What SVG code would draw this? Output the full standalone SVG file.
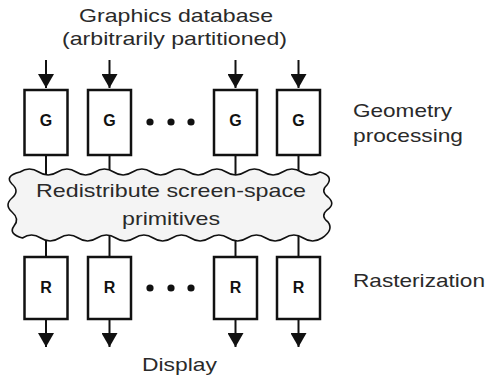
<svg xmlns="http://www.w3.org/2000/svg" width="490" height="375" viewBox="0 0 490 375">
<defs>
<marker id="ah" markerWidth="14" markerHeight="16" refX="14" refY="8" orient="auto" markerUnits="userSpaceOnUse" viewBox="0 0 14 16">
<path d="M0,0 L14,8 L0,16 Z" fill="#111"/>
</marker>
<style>
.lbl{font-family:"Liberation Sans",Arial,sans-serif;font-size:19px;fill:#2a2a2a}
.box{fill:#fff;stroke:#111;stroke-width:2.5}
.bl{font-family:"Liberation Sans",Arial,sans-serif;font-size:16px;font-weight:bold;fill:#111;text-anchor:middle}
.ln{stroke:#111;stroke-width:2;fill:none}
.dot{fill:#111}
</style>
</defs>
<rect width="490" height="375" fill="#fff"/>

<text class="lbl" x="79" y="22" textLength="194" lengthAdjust="spacingAndGlyphs">Graphics database</text>
<text class="lbl" x="62" y="45" textLength="225" lengthAdjust="spacingAndGlyphs">(arbitrarily partitioned)</text>
<text class="lbl" x="353" y="117" textLength="99" lengthAdjust="spacingAndGlyphs">Geometry</text>
<text class="lbl" x="353" y="142" textLength="110" lengthAdjust="spacingAndGlyphs">processing</text>
<text class="lbl" x="353" y="287" textLength="132" lengthAdjust="spacingAndGlyphs">Rasterization</text>
<text class="lbl" x="142" y="371" textLength="75" lengthAdjust="spacingAndGlyphs">Display</text>

<g id="connectors">
<line class="ln" x1="46" y1="60" x2="46" y2="88" marker-end="url(#ah)"/>
<line class="ln" x1="109.5" y1="60" x2="109.5" y2="88" marker-end="url(#ah)"/>
<line class="ln" x1="235.5" y1="60" x2="235.5" y2="88" marker-end="url(#ah)"/>
<line class="ln" x1="298.5" y1="60" x2="298.5" y2="88" marker-end="url(#ah)"/>
<line class="ln" x1="46" y1="155" x2="46" y2="178"/>
<line class="ln" x1="109.5" y1="155" x2="109.5" y2="178"/>
<line class="ln" x1="235.5" y1="155" x2="235.5" y2="178"/>
<line class="ln" x1="298.5" y1="155" x2="298.5" y2="178"/>
<line class="ln" x1="46" y1="232" x2="46" y2="257"/>
<line class="ln" x1="109.5" y1="232" x2="109.5" y2="257"/>
<line class="ln" x1="235.5" y1="232" x2="235.5" y2="257"/>
<line class="ln" x1="298.5" y1="232" x2="298.5" y2="257"/>
<line class="ln" x1="46" y1="319" x2="46" y2="347" marker-end="url(#ah)"/>
<line class="ln" x1="109.5" y1="319" x2="109.5" y2="347" marker-end="url(#ah)"/>
<line class="ln" x1="235.5" y1="319" x2="235.5" y2="347" marker-end="url(#ah)"/>
<line class="ln" x1="298.5" y1="319" x2="298.5" y2="347" marker-end="url(#ah)"/>
</g>

<g id="redistribute">
<path d="M20,172 q9.4,-6 18.75,0 t18.75,0 t18.75,0 t18.75,0 t18.75,0 t18.75,0 t18.75,0 t18.75,0 t18.75,0 t18.75,0 t18.75,0 t18.75,0 t18.75,0 t18.75,0 t18.75,0 t18.75,0 Q334,176 327,185 Q320,191 328,197 Q336,204 327,210 Q320,216 328,222 Q334,230 322,238 q-9.4,6 -18.75,0 t-18.75,0 t-18.75,0 t-18.75,0 t-18.75,0 t-18.75,0 t-18.75,0 t-18.75,0 t-18.75,0 t-18.75,0 t-18.75,0 t-18.75,0 t-18.75,0 t-18.75,0 t-18.75,0 t-18.25,0 Q8,234 14,226 Q20,219 12,212 Q4,205 12,198 Q20,191 12,184 Q4,176 20,172 Z" fill="#f4f4f4" stroke="#111" stroke-width="1.6"/>
<text class="lbl" x="36" y="197" textLength="270" lengthAdjust="spacingAndGlyphs">Redistribute screen-space</text>
<text class="lbl" x="122" y="225" textLength="98" lengthAdjust="spacingAndGlyphs">primitives</text>
</g>

<g id="G1"><rect class="box" x="24.5" y="90" width="43" height="65"/><text class="bl" x="46" y="126">G</text></g>
<g id="G2"><rect class="box" x="88" y="90" width="43" height="65"/><text class="bl" x="109.5" y="126">G</text></g>
<g id="G3"><rect class="box" x="214" y="90" width="43" height="65"/><text class="bl" x="235.5" y="126">G</text></g>
<g id="G4"><rect class="box" x="277" y="90" width="43" height="65"/><text class="bl" x="298.5" y="126">G</text></g>
<g id="Gdots"><circle class="dot" cx="150" cy="122" r="3.6"/><circle class="dot" cx="171" cy="122" r="3.6"/><circle class="dot" cx="191" cy="122" r="3.6"/></g>

<g id="R1"><rect class="box" x="24.5" y="257" width="43" height="62"/><text class="bl" x="46" y="293">R</text></g>
<g id="R2"><rect class="box" x="88" y="257" width="43" height="62"/><text class="bl" x="109.5" y="293">R</text></g>
<g id="R3"><rect class="box" x="214" y="257" width="43" height="62"/><text class="bl" x="235.5" y="293">R</text></g>
<g id="R4"><rect class="box" x="277" y="257" width="43" height="62"/><text class="bl" x="298.5" y="293">R</text></g>
<g id="Rdots"><circle class="dot" cx="150" cy="288" r="3.6"/><circle class="dot" cx="171" cy="288" r="3.6"/><circle class="dot" cx="191" cy="288" r="3.6"/></g>
</svg>
